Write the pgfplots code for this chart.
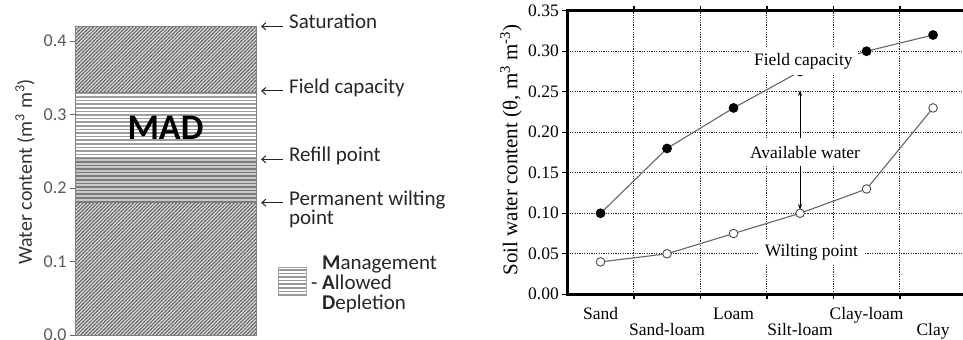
\documentclass[border=0pt]{standalone}
\usepackage{fontspec}
\setmainfont{Carlito}
\newfontfamily\timesf{Liberation Serif}
\usepackage{pgfplots}
\pgfplotsset{compat=1.18}
\usetikzlibrary{patterns,arrows.meta}

% dense diagonal hatching and ruled horizontal lines
\pgfdeclarepatternformonly{diagNE}{\pgfpoint{-1bp}{-1bp}}{\pgfpoint{5bp}{5bp}}{\pgfpoint{3.6bp}{3.6bp}}{%
  \pgfsetlinewidth{1bp}%
  \pgfpathmoveto{\pgfpoint{-0.5bp}{-0.5bp}}\pgfpathlineto{\pgfpoint{4.1bp}{4.1bp}}\pgfusepath{stroke}}
\pgfdeclarepatternformonly{hrule}{\pgfpoint{-1bp}{-1bp}}{\pgfpoint{5bp}{5bp}}{\pgfpoint{4bp}{3.6bp}}{%
  \pgfsetlinewidth{1.5bp}%
  \pgfpathmoveto{\pgfpoint{-1bp}{1.8bp}}\pgfpathlineto{\pgfpoint{5bp}{1.8bp}}\pgfusepath{stroke}}

\newcommand\annfont{\fontsize{21bp}{20bp}\selectfont}
\newcommand\tfont{\timesf\fontsize{17.5bp}{19bp}\selectfont}
\tikzset{
  levarrow/.style={-{Straight Barb[length=4bp,width=7bp]}, line width=1bp, black!85},
  levtext/.style={anchor=mid west, inner sep=0pt, font=\annfont, text=black!85},
}

\begin{document}
\begin{tikzpicture}
\path[use as bounding box] (0,0) rectangle (963bp,340bp);

% ---------------- soil water column ----------------
\begin{axis}[
  at={(75bp,5bp)}, anchor=south west,
  width=181bp, height=308.7bp, scale only axis,
  xmin=-0.5, xmax=0.5, ymin=0, ymax=0.42,
  enlargelimits=false, clip=false,
  ybar stacked, bar width=1,
  xtick=\empty,
  ytick={0,0.1,0.2,0.3,0.4},
  /pgf/number format/assume math mode=true,
  yticklabel style={/pgf/number format/fixed, /pgf/number format/fixed zerofill,
    /pgf/number format/precision=1, font=\fontsize{18bp}{20bp}\selectfont, text=black!65},
  tick align=outside, ytick pos=left,
  major tick length=5bp,
  tick style={black!60, line width=0.8bp},
  axis line style={black!55, line width=1bp},
  ylabel={Water content (m\textsuperscript{3} m\textsuperscript{3})},
  ylabel style={font=\fontsize{20bp}{22bp}\selectfont, text=black!80,
    at={(axis description cs:-0.276,0.528)}, anchor=center},
]
\addplot[fill=gray!28, draw=black!50, line width=0.6bp,
  postaction={pattern=diagNE, pattern color=black!58}] coordinates {(0,0.18)};
\addplot[fill=black!22, draw=black!50, line width=0.6bp,
  postaction={pattern=hrule, pattern color=black!52}] coordinates {(0,0.06)};
\addplot[fill=white, draw=black!50, line width=0.6bp,
  postaction={pattern=hrule, pattern color=black!38}] coordinates {(0,0.09)};
\addplot[fill=gray!28, draw=black!50, line width=0.6bp,
  postaction={pattern=diagNE, pattern color=black!58}] coordinates {(0,0.09)};

\coordinate (mad) at (axis cs:0,0.282);

% level markers
\draw[levarrow] (axis cs:0.649,0.42) -- (axis cs:0.528,0.42);
\node[levtext] at (axis cs:0.682,0.42) {Saturation};
\draw[levarrow] (axis cs:0.649,0.332) -- (axis cs:0.528,0.332);
\node[levtext] at (axis cs:0.682,0.332) {Field capacity};
\draw[levarrow] (axis cs:0.649,0.239) -- (axis cs:0.528,0.239);
\node[levtext] at (axis cs:0.682,0.239) {Refill point};
\draw[levarrow] (axis cs:0.649,0.18) -- (axis cs:0.528,0.18);
\node[levtext] at (axis cs:0.682,0.18) {Permanent wilting};
\node[levtext] at (axis cs:0.682,0.1537) {point};

% key for the ruled band
\draw[draw=black!35, fill=white, postaction={pattern=hrule, pattern color=black!40}]
  (axis cs:0.6215,0.0544) rectangle (axis cs:0.776,0.0925);
\node[anchor=north west, inner sep=0pt, align=left, font=\annfont, text=black!85]
  at (axis cs:0.8646,0.108)
  {\textbf{M}anagement\\\llap{- }\textbf{A}llowed\\\textbf{D}epletion};
\end{axis}
\node[font=\bfseries\fontsize{36bp}{36bp}\selectfont] at (mad) {MAD};

% ---------------- texture comparison ----------------
\begin{axis}[
  at={(567.3bp,45.7bp)}, anchor=south west,
  width=399bp, height=283.6bp, scale only axis,
  xmin=0, xmax=6, ymin=0, ymax=0.35,
  enlargelimits=false,
  xtick={0.5,2.5,4.5}, xticklabels={Sand,Loam,Clay-loam},
  extra x ticks={1.5,3.5,5.5}, extra x tick labels={Sand-loam,Silt-loam,Clay},
  extra x tick style={grid=none, xticklabel style={yshift=-15.5bp}},
  every major x tick/.append style={draw=none},
  minor xtick={1,2,3,4,5},
  xminorgrids=true, ymajorgrids=true,
  ytick={0,0.05,0.10,0.15,0.20,0.25,0.30,0.35},
  /pgf/number format/assume math mode=true,
  yticklabel style={/pgf/number format/fixed, /pgf/number format/fixed zerofill,
    /pgf/number format/precision=2, font=\tfont},
  xticklabel style={font=\tfont, yshift=-5bp},
  tick align=outside, ytick pos=left, xtick pos=both,
  major tick length=5bp, minor tick length=5bp,
  tick style={black, line width=1.4bp},
  axis line style={line width=2.4bp},
  minor grid style={black!85, line width=0.8bp, dash pattern=on 1.2bp off 1.2bp},
  major grid style={black!85, line width=0.8bp, dash pattern=on 1.2bp off 1.2bp},
  ylabel={Soil water content (θ, m\textsuperscript{3} m\textsuperscript{-3})},
  ylabel style={font=\timesf\fontsize{21bp}{23bp}\selectfont,
    at={(axis description cs:-0.141,0.509)}, anchor=center},
]
% field capacity
\addplot[black!60, line width=1.1bp, mark=*, mark size=4.3bp,
  mark options={fill=black, draw=black, solid}]
  coordinates {(0.5,0.10)(1.5,0.18)(2.5,0.23)(3.5,0.275)(4.5,0.30)(5.5,0.32)};
% wilting point
\addplot[black!60, line width=1.1bp, mark=*, mark size=4.3bp,
  mark options={fill=white, draw=black!70, line width=0.9bp, solid}]
  coordinates {(0.5,0.04)(1.5,0.05)(2.5,0.075)(3.5,0.10)(4.5,0.13)(5.5,0.23)};

\draw[{Stealth[length=6bp,width=4bp]}-{Stealth[length=6bp,width=4bp]}, line width=0.8bp]
  (axis cs:3.5,0.104) -- (axis cs:3.5,0.252);

\coordinate (fc) at (axis cs:3.55,0.2875);
\coordinate (aw) at (axis cs:3.575,0.1755);
\coordinate (wp) at (axis cs:3.67,0.0513);
\end{axis}
\node[fill=white, inner xsep=5bp, inner ysep=5.5bp, font=\tfont] at (fc) {Field capacity};
\node[fill=white, inner xsep=3bp, inner ysep=8bp, font=\tfont] at (aw) {Available water};
\node[fill=white, inner xsep=7bp, inner ysep=4.6bp, font=\tfont] at (wp) {Wilting point};
\end{tikzpicture}
\end{document}
